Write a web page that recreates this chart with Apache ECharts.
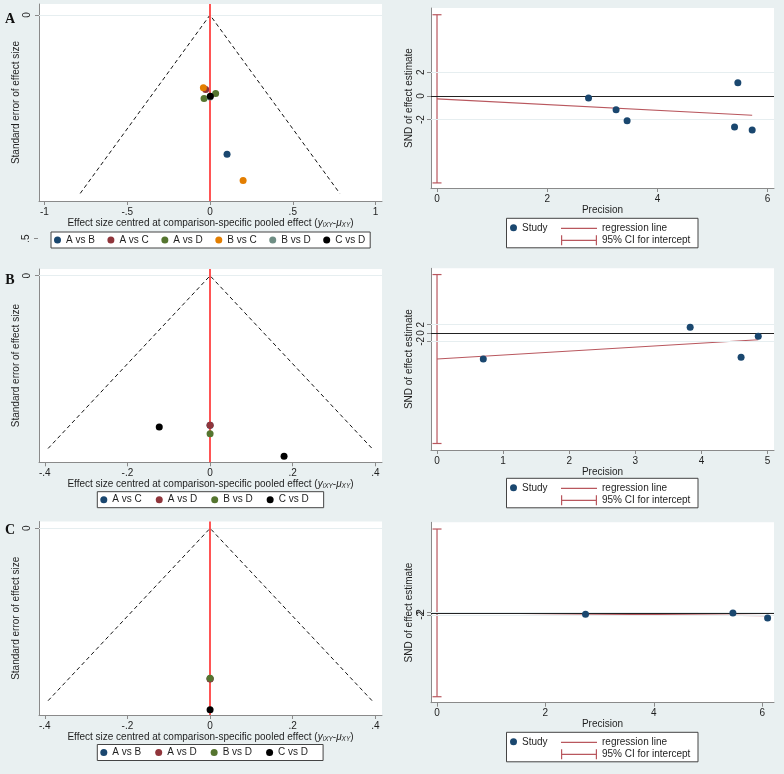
<!DOCTYPE html>
<html>
<head>
<meta charset="utf-8">
<script src="https://cdn.jsdelivr.net/npm/echarts@6/dist/echarts.min.js"></script>
<style>
  html, body { margin: 0; padding: 0; background: #e9f0f1; }
  #chart { width: 784px; height: 774px; }
</style>
</head>
<body>
<div id="chart"></div>
<script>
// funnel plots: [effect size centred, standard error]
const compsA = ['A vs B', 'A vs C', 'A vs D', 'B vs C', 'B vs D', 'C vs D'];
const compsB = ['A vs C', 'A vs D', 'B vs D', 'C vs D'];
const compsC = ['A vs B', 'A vs D', 'B vs D', 'C vs D'];

const funnelA = {
  'A vs B': [[0.103, 0.312]],
  'A vs C': [[-0.026, 0.167]],
  'A vs D': [[0.034, 0.176], [-0.036, 0.187]],
  'B vs C': [[-0.040, 0.163], [0.200, 0.371]],
  'B vs D': [[0.000, 0.184]],
  'C vs D': [[0.002, 0.182]]
};
const funnelB = {
  'A vs C': [[0, 0.173]],
  'A vs D': [[0, 0.173]],
  'B vs D': [[0, 0.183]],
  'C vs D': [[-0.123, 0.175], [0.179, 0.209]]
};
const funnelC = {
  'A vs B': [[0, 0.1745]],
  'A vs D': [[0, 0.1748]],
  'B vs D': [[0, 0.174]],
  'C vs D': [[0, 0.2104]]
};
const seMaxA = 0.4, seMaxB = 0.2, seMaxC = 0.2;

// egger plots
const precA = [2.75, 3.25, 3.45, 5.46, 5.40, 5.72];
const sndA = [-0.17, -1.16, -2.09, 1.12, -2.62, -2.87];
const regA = { intercept: -0.25, slope: -0.241 };
const ciA = [-7.35, 6.87];

const precB = [0.70, 3.83, 4.60, 4.86];
const sndB = [-6.24, 1.37, -5.84, -0.80];
const regB = { intercept: -6.24, slope: 0.95 };
const ciB = [-26.5, 14.0];

const precC = [2.74, 5.46, 6.10];
const sndC = [-0.7, 0.8, -5.2];
const regC = { intercept: 1.2, slope: -0.59 };
const ciC = [-100, 102];

// stata s2color order, last comparison drawn in black
const palette = ['#1a476f', '#90353b', '#55752f', '#e37e00', '#6e8e84'];
const FONT = '"Liberation Sans", Arial, sans-serif';
const FS = 10;
const AXIS = '#8a8a8a';
const TXT = '#1e1e1e';
const REG = '#b9575e';

function colorFor(i, n) { return i === n - 1 ? '#000000' : palette[i]; }

function fmt(v) {
  let s = String(+(+v).toFixed(4));
  return s.replace(/^(-?)0\./, '$1.');
}

function xAx(grid, min, max, ticks, name, gap, rich) {
  return {
    type: 'value', gridIndex: grid, min: min, max: max, position: 'bottom',
    axisLine: { show: true, onZero: false, lineStyle: { color: AXIS, width: 1 } },
    axisTick: { show: true, length: 4, customValues: ticks, lineStyle: { color: AXIS } },
    axisLabel: { customValues: ticks, formatter: fmt, margin: 6, fontSize: FS, color: TXT, fontFamily: FONT,
      hideOverlap: false, showMinLabel: true, showMaxLabel: true },
    splitLine: { show: false },
    name: name, nameLocation: 'middle', nameGap: gap,
    nameTextStyle: { fontSize: FS, color: TXT, fontFamily: FONT, rich: rich }
  };
}

function yAx(grid, min, max, ticks, name, gap, inverse, margin) {
  return {
    type: 'value', gridIndex: grid, min: min, max: max, inverse: inverse,
    axisLine: { show: true, onZero: false, lineStyle: { color: AXIS, width: 1 } },
    axisTick: { show: true, length: 4, customValues: ticks, lineStyle: { color: AXIS } },
    axisLabel: { customValues: ticks, formatter: fmt, rotate: 90, margin: margin, fontSize: FS, color: TXT, fontFamily: FONT,
      hideOverlap: false, showMinLabel: true, showMaxLabel: true },
    splitLine: { show: false },
    name: name, nameLocation: 'middle', nameGap: gap,
    nameTextStyle: { fontSize: FS, color: TXT, fontFamily: FONT }
  };
}

const effName = '{n|Effect size centred at comparison-specific pooled effect (}{i|y}{s|iXY}{n|-}{i|\u03bc}{s|XY}{n|)}';
const effRich = {
  n: { fontSize: FS, color: TXT, fontFamily: FONT },
  i: { fontSize: FS, color: TXT, fontFamily: FONT, fontStyle: 'italic' },
  s: { fontSize: 6.5, color: TXT, fontFamily: FONT, fontStyle: 'italic', padding: [4, 0, 0, 0] }
};

const series = [];

function funnel(grid, data, comps, seMax, tag) {
  series.push({
    type: 'line', xAxisIndex: grid, yAxisIndex: grid, z: 2,
    data: [[-1.96 * seMax, seMax], [0, 0], [1.96 * seMax, seMax]],
    symbol: 'none', silent: true,
    lineStyle: { color: '#111', width: 1, type: [4, 3] },
    markLine: {
      silent: true, symbol: 'none', label: { show: false }, animation: false,
      data: [
        { yAxis: 0, lineStyle: { color: '#e6eef0', width: 1, type: 'solid' } },
        { xAxis: 0, lineStyle: { color: '#ff2a2a', width: 1.6, type: 'solid' } }
      ]
    }
  });
  comps.forEach(function (c, i) {
    series.push({
      name: c + tag, type: 'scatter', xAxisIndex: grid, yAxisIndex: grid, z: 5,
      data: data[c], symbol: 'circle', symbolSize: 7,
      itemStyle: { color: colorFor(i, comps.length), opacity: 1 }
    });
  });
}

function egger(grid, prec, snd, reg, ci, tag) {
  const xmax = Math.max.apply(null, prec);
  series.push({
    name: 'regression line' + tag, type: 'line', xAxisIndex: grid, yAxisIndex: grid, z: 2,
    data: [[0, reg.intercept], [xmax, reg.intercept + reg.slope * xmax]],
    symbol: 'none', silent: true,
    itemStyle: { color: REG },
    lineStyle: { color: REG, width: 1.2 },
    markLine: {
      silent: true, symbol: 'none', label: { show: false }, animation: false,
      data: [
        { yAxis: 2, lineStyle: { color: '#e6eef0', width: 1, type: 'solid' } },
        { yAxis: -2, lineStyle: { color: '#e6eef0', width: 1, type: 'solid' } },
        { yAxis: 0, lineStyle: { color: '#222', width: 1, type: 'solid' } }
      ]
    }
  });
  series.push({
    name: '95% CI for intercept' + tag, type: 'custom', xAxisIndex: grid, yAxisIndex: grid, z: 3,
    data: [[0, ci[0], ci[1]]], encode: { x: 0, y: [1, 2] },
    itemStyle: { color: REG },
    renderItem: function (params, api) {
      const top = api.coord([api.value(0), api.value(2)]);
      const bot = api.coord([api.value(0), api.value(1)]);
      const st = { stroke: REG, lineWidth: 1.2 };
      return {
        type: 'group',
        children: [
          { type: 'line', shape: { x1: top[0], y1: top[1], x2: bot[0], y2: bot[1] }, style: st },
          { type: 'line', shape: { x1: top[0] - 4.5, y1: top[1], x2: top[0] + 4.5, y2: top[1] }, style: st },
          { type: 'line', shape: { x1: bot[0] - 4.5, y1: bot[1], x2: bot[0] + 4.5, y2: bot[1] }, style: st }
        ]
      };
    }
  });
  series.push({
    name: 'Study' + tag, type: 'scatter', xAxisIndex: grid, yAxisIndex: grid, z: 5,
    data: prec.map(function (p, i) { return [p, snd[i]]; }),
    symbol: 'circle', symbolSize: 7,
    itemStyle: { color: '#1a476f', opacity: 1 }
  });
}

// tags keep legend names unique per panel
const tags = ['', '\u200b', '\u200b\u200b'];
funnel(0, funnelA, compsA, seMaxA, tags[0]);
egger(1, precA, sndA, regA, ciA, tags[0]);
funnel(2, funnelB, compsB, seMaxB, tags[1]);
egger(3, precB, sndB, regB, ciB, tags[1]);
funnel(4, funnelC, compsC, seMaxC, tags[2]);
egger(5, precC, sndC, regC, ciC, tags[2]);

const gridBase = { show: true, backgroundColor: '#ffffff', borderWidth: 0, containLabel: false, outerBoundsMode: 'none' };
const grids = [
  [39, 4, 343, 197], [431, 8, 343, 180],
  [39, 269, 343, 193.3], [431, 268.3, 343, 181.7],
  [39, 521.5, 343, 193.5], [431, 522.3, 343, 180.4]
].map(function (g) {
  return Object.assign({ left: g[0], top: g[1], width: g[2], height: g[3] }, gridBase);
});

const funnelTicksA = [-1, -0.5, 0, 0.5, 1];
const funnelTicksBC = [-0.4, -0.2, 0, 0.2, 0.4];
const seTicks = [0];
const sndTicks = [-2, 0, 2];

const xAxes = [
  xAx(0, -1.033, 1.039, funnelTicksA, effName, 15, effRich),
  xAx(1, -0.109, 6.116, [0, 2, 4, 6], 'Precision', 16),
  xAx(2, -0.414, 0.416, funnelTicksBC, effName, 15.5, effRich),
  xAx(3, -0.091, 5.098, [0, 1, 2, 3, 4, 5], 'Precision', 14),
  xAx(4, -0.414, 0.416, funnelTicksBC, effName, 15.5, effRich),
  xAx(5, -0.111, 6.218, [0, 2, 4, 6], 'Precision', 14.5)
];
const yAxes = [
  yAx(0, -0.0247, 0.417, seTicks, 'Standard error of effect size', 14.5, true, 7),
  yAx(1, -7.78, 7.44, sndTicks, 'SND of effect estimate', 17, false, 5),
  yAx(2, -0.0078, 0.216, seTicks, 'Standard error of effect size', 14.5, true, 7),
  yAx(3, -28.06, 15.5, sndTicks, 'SND of effect estimate', 17, false, 5),
  yAx(4, -0.0079, 0.2166, seTicks, 'Standard error of effect size', 14.5, true, 7),
  yAx(5, -107.2, 110.1, sndTicks, 'SND of effect estimate', 17, false, 5)
];

const legText = { fontSize: FS, color: TXT, fontFamily: FONT };
function funnelLegend(comps, tag, left, top, gap, padRight) {
  return {
    data: comps.map(function (c, i) {
      return { name: c + tag, itemStyle: { color: colorFor(i, comps.length) } };
    }),
    formatter: function (n) { return n.replace(/\u200b/g, ''); },
    left: left, top: top, orient: 'horizontal', icon: 'circle',
    itemWidth: 7, itemHeight: 7, itemGap: gap, padding: [3, padRight, 3, 3],
    borderColor: '#444', borderWidth: 1, borderRadius: 0, backgroundColor: '#fff',
    textStyle: legText, selectedMode: false
  };
}
const lineIcon = 'path://M0,0h40v1.4h-40z';
const ciIcon = 'path://M0,0h1.2v10h-1.2z M0,4.4h36v1.2h-36z M34.8,0h1.2v10h-1.2z';
function eggerLegends(tag, top) {
  const strip = function (n) { return n.replace(/\u200b/g, ''); };
  return [
    { data: ['Study' + tag], formatter: strip, left: 510, top: top + 4.5, icon: 'circle', itemWidth: 7, itemHeight: 7,
      textStyle: legText, selectedMode: false, padding: 0 },
    { data: [{ name: 'regression line' + tag, icon: lineIcon }, { name: '95% CI for intercept' + tag, icon: ciIcon }],
      formatter: strip, left: 561, top: top + 4.5, orient: 'vertical', itemWidth: 36, itemHeight: 10, itemGap: 1,
      textStyle: Object.assign({ lineHeight: 11 }, legText), selectedMode: false, padding: 0 }
  ];
}

const legends = [
  funnelLegend(compsA, tags[0], 51, 232, 12.5, 5),
  funnelLegend(compsB, tags[1], 97.3, 491.7, 14, 15),
  funnelLegend(compsC, tags[2], 97.3, 744.5, 14, 15)
].concat(eggerLegends(tags[0], 218.3), eggerLegends(tags[1], 478.3), eggerLegends(tags[2], 732.3));

const letterFont = 'bold 14px "Liberation Serif", "DejaVu Serif", serif';
function legendBox(top) {
  return { type: 'rect', z: 0, shape: { x: 506.5, y: top, width: 191.5, height: 29.5 },
    style: { fill: '#fff', stroke: '#444', lineWidth: 1 } };
}
const graphics = [
  { type: 'text', x: 10, y: 19, style: { text: 'A', font: letterFont, fill: '#111', align: 'center', verticalAlign: 'middle' } },
  { type: 'text', x: 10, y: 280, style: { text: 'B', font: letterFont, fill: '#111', align: 'center', verticalAlign: 'middle' } },
  { type: 'text', x: 10, y: 530, style: { text: 'C', font: letterFont, fill: '#111', align: 'center', verticalAlign: 'middle' } },
  { type: 'text', x: 26.5, y: 238.5, rotation: Math.PI / 2,
    style: { text: '.5', font: FS + 'px ' + FONT, fill: TXT, align: 'center', verticalAlign: 'middle' } },
  { type: 'line', shape: { x1: 34, y1: 238.5, x2: 38, y2: 238.5 }, style: { stroke: AXIS, lineWidth: 1 } },
  legendBox(218.3), legendBox(478.3), legendBox(732.3)
];

const chart = echarts.init(document.getElementById('chart'), null, { renderer: 'canvas' });
chart.setOption({
  backgroundColor: '#e9f0f1',
  animation: false,
  textStyle: { fontFamily: FONT },
  grid: grids,
  xAxis: xAxes,
  yAxis: yAxes,
  legend: legends,
  graphic: graphics,
  series: series
});
</script>
</body>
</html>
